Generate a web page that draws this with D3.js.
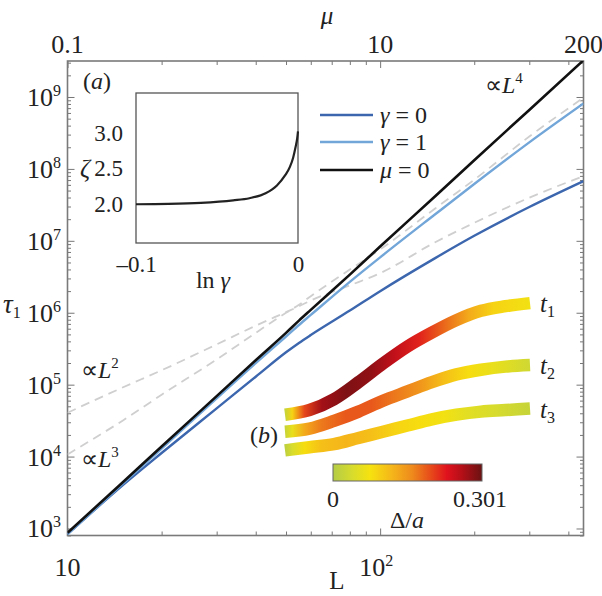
<!DOCTYPE html>
<html><head><meta charset="utf-8">
<script src="https://cdn.jsdelivr.net/npm/d3@7"></script>
<style>
body{margin:0;background:#fff}
svg{display:block}
text{font-family:"Liberation Serif","Times New Roman",serif;fill:#222}
</style>
</head><body>
<svg id="c" width="602" height="596"></svg>
<script>
// ---------- data ----------
const sizeL      = [10, 15, 20, 30, 40, 50, 55, 60, 80, 100, 150, 200, 300, 447.2];
const tauMu0     = [871, 4365, 13800, 69200, 218800, 524800, 776000, 1096000, 3390000, 8320000, 41700000, 132000000, 661000000, 3240000000];
const tauGamma1  = [832, 4170, 12900, 64600, 199500, 467700, 676000, 933000, 2690000, 5890000, 23400000, 61700000, 234000000, 813000000];
const tauGamma0  = [832, 3981, 11220, 46770, 128800, 281800, 380200, 489800, 1071500, 1995300, 5754000, 11750000, 29500000, 67600000];
const guideL2    = [40700, 91200, 158500, 363100, 660700, 1020000, 1230000, 1480000, 2400000, 3550000, 9550000, 17800000, 39800000, 79400000];
const guideL3    = [10700, 31600, 72400, 223900, 524800, 1000000, 1290000, 1700000, 3980000, 7590000, 28200000, 70800000, 282000000, 977000000];

const lnGamma    = [-0.1, -0.08, -0.06, -0.04, -0.03, -0.02, -0.013, -0.008, -0.005, -0.003, -0.0015, -0.0005, 0];
const zeta       = [1.995, 2.0, 2.015, 2.05, 2.08, 2.15, 2.26, 2.40, 2.52, 2.65, 2.80, 2.92, 3.02];

const bandX      = [0, 0.1, 0.2, 0.3, 0.4, 0.5, 0.6, 0.7, 0.8, 0.9, 1.0];
const bandT1     = [0.26, 0.29, 0.36, 0.47, 0.59, 0.70, 0.79, 0.87, 0.93, 0.96, 0.98];
const bandT2     = [0.15, 0.17, 0.22, 0.28, 0.35, 0.41, 0.47, 0.52, 0.55, 0.57, 0.58];
const bandT3     = [0.03, 0.05, 0.07, 0.11, 0.15, 0.19, 0.23, 0.26, 0.28, 0.29, 0.30];
const deltaX     = [0, 0.03, 0.08, 0.15, 0.25, 0.35, 0.45, 0.55, 0.65, 0.75, 0.85, 1.0];
const deltaT1    = [0.02, 0.09, 0.20, 0.27, 0.29, 0.28, 0.25, 0.22, 0.18, 0.13, 0.09, 0.07];
const deltaT2    = [0.02, 0.06, 0.13, 0.17, 0.19, 0.19, 0.17, 0.15, 0.11, 0.08, 0.06, 0.03];
const deltaT3    = [0.01, 0.04, 0.08, 0.11, 0.12, 0.11, 0.09, 0.08, 0.07, 0.05, 0.04, 0.02];

const cmapDelta  = [0, 0.04, 0.075, 0.12, 0.16, 0.20, 0.23, 0.26, 0.301];
const cmapColor  = ["#b4cc46", "#d8dc2c", "#f6e20f", "#f5b51a", "#ee8a1c", "#e6461a", "#e0121d", "#b50f18", "#6a1212"];

const xMajor = [10, 100];
const xMinor = [20, 30, 40, 50, 60, 70, 80, 90, 200, 300, 400];
const yMajor = [1e3, 1e4, 1e5, 1e6, 1e7, 1e8, 1e9];
const yExp   = ["3", "4", "5", "6", "7", "8", "9"];
const muTicks  = [0.1, 10, 200];
const muLabels = ["0.1", "10", "200"];

// ---------- scales ----------
const svg = d3.select("#c");
const x = d3.scaleLog().domain([10, 447.2]).range([67.5, 583.5]);
const y = d3.scaleLog().domain([799, 3.166e9]).range([535.5, 61]);
const xMu = d3.scaleLog().domain([0.1, 200]).range([67.5, 583.5]);
const X0 = 67.5, X1 = 583.5, Y0 = 535.5, Y1 = 61;

const yMinor = [];
[2,3,4,5,6,7,8,9].forEach(m => { for (let k = 2; k <= 9; k++) { const v = m * Math.pow(10, k); if (v >= 799 && v <= 3.166e9) yMinor.push(v); } });

svg.append("defs").append("clipPath").attr("id", "plot")
  .append("rect").attr("x", X0).attr("y", Y1).attr("width", X1 - X0).attr("height", Y0 - Y1);

// ---------- axes ticks ----------
function tickAxis(axis, tx, ty) {
  const g = svg.append("g").attr("transform", `translate(${tx},${ty})`).call(axis);
  g.select(".domain").remove();
  g.selectAll("text").remove();
  g.selectAll("line").attr("stroke", "#777").attr("stroke-width", 1);
  return g;
}
tickAxis(d3.axisBottom(x).tickValues(xMajor).tickSize(-7), 0, Y0);
tickAxis(d3.axisBottom(x).tickValues(xMinor).tickSize(-4), 0, Y0);
tickAxis(d3.axisTop(x).tickValues(xMajor).tickSize(-7), 0, Y1);
tickAxis(d3.axisTop(x).tickValues(xMinor).tickSize(-4), 0, Y1);
tickAxis(d3.axisLeft(y).tickValues(yMajor).tickSize(-7), X0, 0);
tickAxis(d3.axisLeft(y).tickValues(yMinor).tickSize(-3.5), X0, 0);
tickAxis(d3.axisRight(y).tickValues(yMajor).tickSize(-7), X1, 0);
tickAxis(d3.axisRight(y).tickValues(yMinor).tickSize(-3.5), X1, 0);

svg.append("rect").attr("x", X0).attr("y", Y1).attr("width", X1 - X0).attr("height", Y0 - Y1)
  .attr("fill", "none").attr("stroke", "#7a7a7a").attr("stroke-width", 1.6);

// ---------- tick labels ----------
const FS = 26;
yMajor.forEach((v, i) => {
  const t = svg.append("text").attr("x", 61).attr("y", y(v) + 9).attr("text-anchor", "end").attr("font-size", FS);
  t.append("tspan").text("10");
  t.append("tspan").attr("dy", -10).attr("font-size", 16).text(yExp[i]);
});
svg.append("text").attr("x", x(10)).attr("y", 576).attr("text-anchor", "middle").attr("font-size", FS).text("10");
{
  const t = svg.append("text").attr("x", x(100) - 4).attr("y", 576).attr("text-anchor", "middle").attr("font-size", FS);
  t.append("tspan").text("10");
  t.append("tspan").attr("dy", -10).attr("font-size", 16).text("2");
}
svg.append("text").attr("x", 337).attr("y", 589).attr("text-anchor", "middle").attr("font-size", 25).text("L");
muTicks.forEach((v, i) => {
  svg.append("text").attr("x", xMu(v)).attr("y", 53).attr("text-anchor", "middle").attr("font-size", FS).text(muLabels[i]);
});
svg.append("text").attr("x", 327).attr("y", 24).attr("text-anchor", "middle").attr("font-size", 25).attr("font-style", "italic").text("μ");
{
  const t = svg.append("text").attr("x", 3).attr("y", 313).attr("font-size", 27);
  t.append("tspan").attr("font-style", "italic").text("τ");
  t.append("tspan").attr("dy", 5).attr("font-size", 16).text("1");
}

// ---------- curves ----------
const plot = svg.append("g").attr("clip-path", "url(#plot)");
const line = d3.line().x(d => x(d[0])).y(d => y(d[1])).curve(d3.curveMonotoneX);
function series(vals) { return sizeL.map((l, i) => [l, vals[i]]); }
[guideL2, guideL3].forEach(g => {
  plot.append("path").attr("d", line(series(g))).attr("fill", "none")
    .attr("stroke", "#cfcfcf").attr("stroke-width", 1.8).attr("stroke-dasharray", "9,6");
});
plot.append("path").attr("d", line(series(tauGamma0))).attr("fill", "none").attr("stroke", "#3c67ae").attr("stroke-width", 2.4);
plot.append("path").attr("d", line(series(tauGamma1))).attr("fill", "none").attr("stroke", "#72a6d9").attr("stroke-width", 2.4);
plot.append("path").attr("d", line(series(tauMu0))).attr("fill", "none").attr("stroke", "#111").attr("stroke-width", 2.6);

function powLabel(px, py, n) {
  const t = svg.append("text").attr("x", px).attr("y", py).attr("font-size", 24);
  t.append("tspan").text("∝");
  t.append("tspan").attr("font-style", "italic").text("L");
  t.append("tspan").attr("dy", -10).attr("font-size", 15).text(n);
}
powLabel(485, 93, "4");
powLabel(81, 378, "2");
powLabel(81, 467, "3");
{
  const t = svg.append("text").attr("x", 83).attr("y", 89).attr("font-size", 24);
  t.append("tspan").text("(");
  t.append("tspan").attr("font-style", "italic").text("a");
  t.append("tspan").text(")");
}

// ---------- legend ----------
const legItems = [
  {sym: "γ", val: "0", color: "#3c67ae"},
  {sym: "γ", val: "1", color: "#72a6d9"},
  {sym: "μ", val: "0", color: "#111"}
];
const legY = [115, 142, 170];
legItems.forEach((d, i) => {
  svg.append("line").attr("x1", 320).attr("x2", 373).attr("y1", legY[i]).attr("y2", legY[i])
    .attr("stroke", d.color).attr("stroke-width", 2.6);
  const t = svg.append("text").attr("x", 380).attr("y", legY[i] + 8).attr("font-size", 24);
  t.append("tspan").attr("font-style", "italic").text(d.sym);
  t.append("tspan").text(" = " + d.val);
});

// ---------- inset (a) ----------
const xI = d3.scaleLinear().domain([-0.1, 0]).range([136, 298]);
const yI = d3.scaleLinear().domain([1.45, 3.56]).range([243, 93]);
svg.append("rect").attr("x", 136).attr("y", 93).attr("width", 162).attr("height", 150)
  .attr("fill", "#fff").attr("stroke", "#555").attr("stroke-width", 1.3);
const aL = svg.append("g").attr("transform", "translate(136,0)")
  .call(d3.axisLeft(yI).tickValues([2, 2.5, 3]).tickSize(0).tickPadding(13).tickFormat(d3.format(".1f")));
aL.select(".domain").remove();
aL.selectAll("text").attr("font-size", 23).attr("font-family", "Liberation Serif").attr("fill", "#222");
const aB = svg.append("g").attr("transform", "translate(0,243)")
  .call(d3.axisBottom(xI).tickValues([-0.1, 0]).tickSize(0).tickPadding(13).tickFormat(d => d === 0 ? "0" : "–0.1"));
aB.select(".domain").remove();
aB.selectAll("text").attr("font-size", 23).attr("font-family", "Liberation Serif").attr("fill", "#222");
svg.append("path")
  .attr("d", d3.line().x(d => xI(d[0])).y(d => yI(d[1])).curve(d3.curveMonotoneX)(lnGamma.map((g, i) => [g, zeta[i]])))
  .attr("fill", "none").attr("stroke", "#222").attr("stroke-width", 2.2);
svg.append("text").attr("x", 80).attr("y", 177).attr("font-size", 25).attr("font-style", "italic").text("ζ");
{
  const t = svg.append("text").attr("x", 213).attr("y", 288).attr("text-anchor", "middle").attr("font-size", 24);
  t.append("tspan").text("ln ");
  t.append("tspan").attr("font-style", "italic").text("γ");
}

// ---------- inset (b) ----------
const cmap = d3.scaleLinear().domain(cmapDelta).range(cmapColor).interpolate(d3.interpolateRgb);
const xB = d3.scaleLinear().domain([0, 1]).range([285, 530]);
const yB = d3.scaleLinear().domain([0, 1]).range([455, 300]);
const defs = svg.select("defs");
const bands = [
  {id: "g1", ys: bandT1, ds: deltaT1, lab: "1"},
  {id: "g2", ys: bandT2, ds: deltaT2, lab: "2"},
  {id: "g3", ys: bandT3, ds: deltaT3, lab: "3"}
];
const bandLine = d3.line().x((d, i) => xB(bandX[i])).y(d => yB(d)).curve(d3.curveMonotoneX);
bands.slice().reverse().forEach(b => {
  const gr = defs.append("linearGradient").attr("id", b.id).attr("gradientUnits", "userSpaceOnUse")
    .attr("x1", xB(0)).attr("x2", xB(1)).attr("y1", 0).attr("y2", 0);
  deltaX.forEach((dx, i) => gr.append("stop").attr("offset", dx).attr("stop-color", cmap(b.ds[i])));
  svg.append("path").attr("d", bandLine(b.ys)).attr("fill", "none").attr("stroke", "#fff").attr("stroke-width", 15.5);
  svg.append("path").attr("d", bandLine(b.ys)).attr("fill", "none").attr("stroke", `url(#${b.id})`).attr("stroke-width", 12.5);
  const t = svg.append("text").attr("x", 540).attr("y", yB(b.ys[b.ys.length - 1]) + 9).attr("font-size", 25);
  t.append("tspan").attr("font-style", "italic").text("t");
  t.append("tspan").attr("dy", 5).attr("font-size", 16).text(b.lab);
});
{
  const t = svg.append("text").attr("x", 250).attr("y", 443).attr("font-size", 24);
  t.append("tspan").text("(");
  t.append("tspan").attr("font-style", "italic").text("b");
  t.append("tspan").text(")");
}
const cb = d3.scaleLinear().domain([0, 0.301]).range([333, 482]);
const cbg = defs.append("linearGradient").attr("id", "cbar").attr("x1", 0).attr("x2", 1).attr("y1", 0).attr("y2", 0);
cmapDelta.forEach((d, i) => cbg.append("stop").attr("offset", d / 0.301).attr("stop-color", cmapColor[i]));
svg.append("rect").attr("x", cb(0)).attr("y", 464).attr("width", cb(0.301) - cb(0)).attr("height", 17)
  .attr("fill", "url(#cbar)").attr("stroke", "#666").attr("stroke-width", 1);
svg.append("text").attr("x", cb(0)).attr("y", 507).attr("text-anchor", "middle").attr("font-size", 24).text("0");
svg.append("text").attr("x", cb(0.301) - 2).attr("y", 507).attr("text-anchor", "middle").attr("font-size", 24).text("0.301");
{
  const t = svg.append("text").attr("x", 407).attr("y", 528).attr("text-anchor", "middle").attr("font-size", 24);
  t.append("tspan").text("Δ/");
  t.append("tspan").attr("font-style", "italic").text("a");
}
</script>
</body></html>
